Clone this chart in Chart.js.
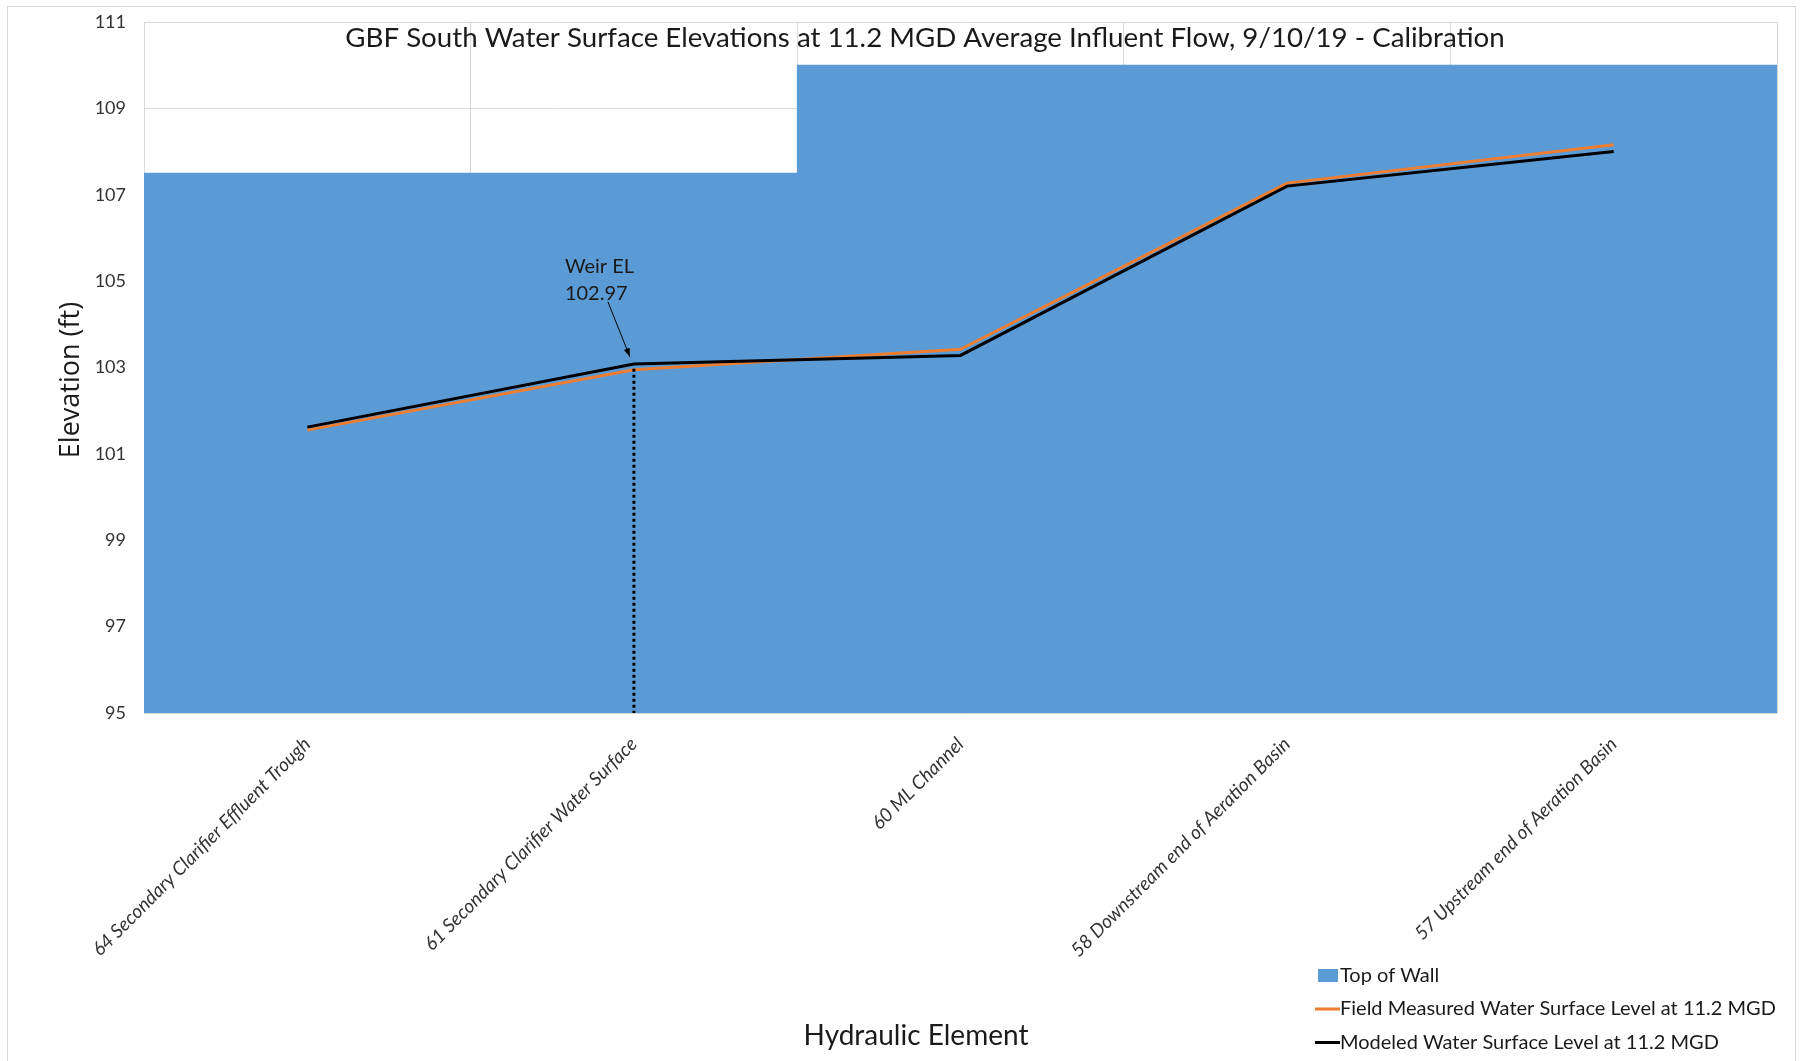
<!DOCTYPE html>
<html>
<head>
<meta charset="utf-8">
<title>GBF South Water Surface Elevations</title>
<script src="https://cdn.jsdelivr.net/npm/chart.js@4.4.1/dist/chart.umd.min.js"></script>
<style>
  html, body { margin: 0; padding: 0; background: #fff; }
  #wrap { width: 1801px; height: 1061px; }
</style>
</head>
<body>
<div id="wrap"><canvas id="chart"></canvas></div>
<script>
// values
const categories = [
  '64 Secondary Clarifier Effluent Trough',
  '61 Secondary Clarifier Water Surface',
  '60 ML Channel',
  '58 Downstream end of Aeration Basin',
  '57 Upstream end of Aeration Basin'
];
const topOfWall = [107.5, 107.5, 110, 110, 110];
const fieldMeasured = [101.55, 102.95, 103.42, 107.27, 108.16];
const modeled = [101.62, 103.08, 103.28, 107.2, 108.0];
const weirEL = 102.97;
const yMin = 95, yMax = 111, yStep = 2;

const seriesNames = [
  'Top of Wall',
  'Field Measured Water Surface Level at 11.2 MGD',
  'Modeled Water Surface Level at 11.2 MGD'
];
const titleText = 'GBF South Water Surface Elevations at 11.2 MGD Average Influent Flow, 9/10/19 - Calibration';
const yTitle = 'Elevation (ft)';
const xTitle = 'Hydraulic Element';

const face = 'Lato, "Liberation Sans", sans-serif';
const textColor = '#1a1a1a';
const tickColor = '#333333';

const extras = {
  id: 'extras',
  beforeDraw(chart) {
    const { ctx, width, height } = chart;
    ctx.save();
    ctx.fillStyle = '#fff';
    ctx.fillRect(0, 0, width, height);
    ctx.strokeStyle = '#d9d9d9';
    ctx.lineWidth = 1;
    ctx.strokeRect(7.5, 6.5, width - 13, height);
    ctx.restore();
  },
  afterDatasetsDraw(chart) {
    const { ctx } = chart;
    const x = chart.scales.x, y = chart.scales.y;
    const px = x.getPixelForValue(1);
    const top = y.getPixelForValue(weirEL);
    const bottom = y.getPixelForValue(yMin);
    ctx.save();
    // dotted weir line
    ctx.strokeStyle = '#000';
    ctx.lineWidth = 3;
    ctx.setLineDash([3, 3]);
    ctx.beginPath();
    ctx.moveTo(px, top);
    ctx.lineTo(px, bottom);
    ctx.stroke();
    ctx.setLineDash([]);
    // arrow from the label
    const x0 = px - 26, y0 = top - 67, x1 = px - 4, y1 = top - 12;
    ctx.lineWidth = 1;
    ctx.beginPath();
    ctx.moveTo(x0, y0);
    ctx.lineTo(x1, y1);
    ctx.stroke();
    const ang = Math.atan2(y1 - y0, x1 - x0);
    ctx.beginPath();
    ctx.moveTo(x1, y1);
    ctx.lineTo(x1 - 9 * Math.cos(ang - 0.35), y1 - 9 * Math.sin(ang - 0.35));
    ctx.lineTo(x1 - 9 * Math.cos(ang + 0.35), y1 - 9 * Math.sin(ang + 0.35));
    ctx.closePath();
    ctx.fillStyle = '#000';
    ctx.fill();
    ctx.font = '20px ' + face;
    ctx.fillStyle = textColor;
    ctx.textAlign = 'left';
    ctx.textBaseline = 'middle';
    ctx.fillText('Weir EL', px - 69, top - 102);
    ctx.fillText(weirEL.toFixed(2), px - 69, top - 75);
    ctx.restore();
  },
  afterDraw(chart) {
    const { ctx } = chart;
    ctx.save();
    ctx.fillStyle = textColor;
    ctx.textBaseline = 'middle';
    ctx.textAlign = 'center';
    // chart title
    ctx.font = '27.7px ' + face;
    ctx.fillText(titleText, 925, 38);
    // x axis title
    ctx.font = '28px ' + face;
    ctx.fillText(xTitle, 916, 1036);
    // y axis title
    ctx.save();
    ctx.translate(71, 380);
    ctx.rotate(-Math.PI / 2);
    ctx.font = '27px "Open Sans", sans-serif';
    ctx.fillText(yTitle, 0, 0);
    ctx.restore();
    // legend
    ctx.textAlign = 'left';
    ctx.font = '20px ' + face;
    chart.data.datasets.forEach((ds, i) => {
      const cy = 975.5 + i * 33.5;
      if (ds.type === 'bar') {
        ctx.fillStyle = ds.backgroundColor;
        ctx.fillRect(1318, cy - 6.5, 20, 13);
      } else {
        ctx.strokeStyle = ds.borderColor;
        ctx.lineWidth = 3;
        ctx.beginPath();
        ctx.moveTo(1315, cy);
        ctx.lineTo(1340, cy);
        ctx.stroke();
      }
      ctx.fillStyle = textColor;
      ctx.fillText(ds.label, 1340, cy);
    });
    ctx.restore();
  }
};

const ctx = document.getElementById('chart');

new Chart(ctx, {
  type: 'bar',
  data: {
    labels: categories,
    datasets: [{
      type: 'bar',
      label: seriesNames[0],
      data: topOfWall,
      backgroundColor: '#5B9BD5',
      borderWidth: 0,
      barPercentage: 1,
      categoryPercentage: 1,
      order: 3
    }, {
      type: 'line',
      label: seriesNames[1],
      data: fieldMeasured,
      borderColor: '#ED7D31',
      backgroundColor: '#ED7D31',
      borderWidth: 3,
      pointRadius: 0,
      tension: 0,
      fill: false,
      order: 2
    }, {
      type: 'line',
      label: seriesNames[2],
      data: modeled,
      borderColor: '#000000',
      backgroundColor: '#000000',
      borderWidth: 3,
      pointRadius: 0,
      tension: 0,
      fill: false,
      order: 1
    }]
  },
  options: {
    responsive: true,
    maintainAspectRatio: false,
    animation: false,
    layout: { padding: { top: 22, right: 24, left: 0, bottom: 0 } },
    plugins: {
      legend: { display: false },
      tooltip: { enabled: false },
      title: { display: false }
    },
    scales: {
      x: {
        offset: true,
        grid: { color: '#d9d9d9', offset: true, drawTicks: false },
        border: { display: false },
        ticks: {
          autoSkip: false,
          minRotation: 45,
          maxRotation: 45,
          padding: 20,
          color: tickColor,
          font: { family: face, size: 19, style: 'italic' }
        },
        afterFit(scale) { scale.height = 348; }
      },
      y: {
        min: yMin,
        max: yMax,
        grid: { color: '#d9d9d9', drawTicks: false },
        border: { display: false },
        ticks: {
          stepSize: yStep,
          padding: 18,
          color: tickColor,
          font: { family: face, size: 18 }
        },
        afterFit(scale) {
          scale.width = 144;
          scale.paddingTop = 0;
          scale.paddingBottom = 0;
        }
      }
    }
  },
  plugins: [extras]
});
</script>
</body>
</html>
